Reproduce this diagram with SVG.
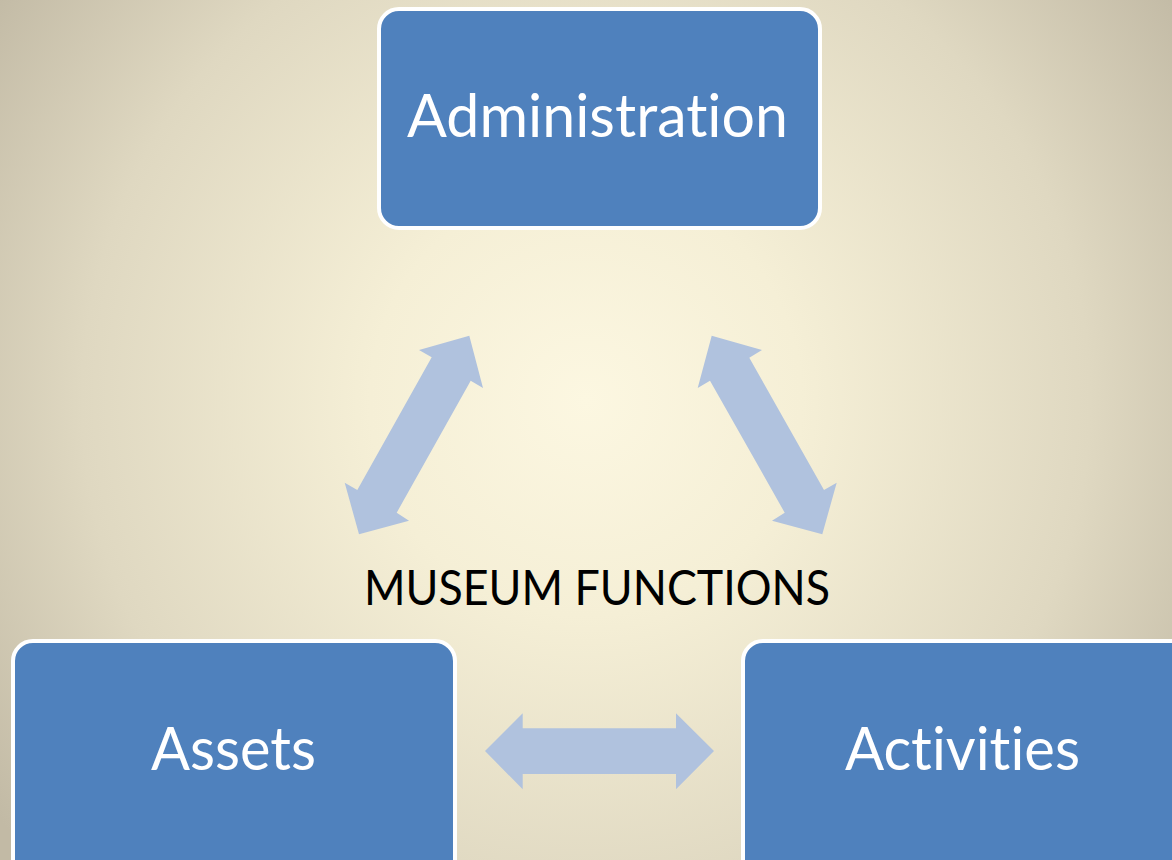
<svg xmlns="http://www.w3.org/2000/svg" width="1172" height="860" viewBox="0 0 1172 860">
<defs>
<radialGradient id="bg" gradientUnits="userSpaceOnUse" cx="586" cy="400" r="720">
<stop offset="0" stop-color="#fcf7e1"/>
<stop offset="0.3" stop-color="#f5efd6"/>
<stop offset="0.7" stop-color="#dfd8c1"/>
<stop offset="1" stop-color="#c2baa5"/>
</radialGradient>
<style>
.box{fill:#4f81bd;stroke:#ffffff;stroke-width:4}
.lbl{font-family:Lato,"Open Sans","Liberation Sans",sans-serif;fill:#ffffff;font-size:60px;font-variant-ligatures:none;font-feature-settings:"liga" 0,"clig" 0}
.arrow{fill:#b0c2de}
.title{font-family:Lato,"Open Sans","Liberation Sans",sans-serif;fill:#000000;font-size:48px;font-variant-ligatures:none}
</style>
</defs>
<rect x="0" y="0" width="1172" height="860" fill="url(#bg)"/>
<g id="connectors">
<polygon class="arrow" points="469.3,335.7 419,350 431.7,357.3 357.3,490 344.7,482.7 359,534.3 409,520.7 396.7,512.7 470.7,380.7 483,388"/>
<polygon class="arrow" points="711.7,335.7 762,350 749.3,357.7 824,490 836.7,482.7 822.3,534.3 772,520.7 784.7,512.7 710,380.7 697.7,388"/>
<polygon class="arrow" points="485,751 522.7,713.3 522.7,728.3 676,728.3 676,713.3 714,751 676,789.3 676,774 522.7,774 522.7,789.3"/>
</g>
<g id="title">
<text class="title" x="364" y="605" textLength="466" lengthAdjust="spacingAndGlyphs">MUSEUM FUNCTIONS</text>
</g>
<g id="administration">
<rect class="box" x="379" y="9" width="441" height="219" rx="20" ry="20"/>
<text class="lbl" x="407" y="137" textLength="381" lengthAdjust="spacingAndGlyphs">Administration</text>
</g>
<g id="assets">
<rect class="box" x="13" y="641" width="442" height="240" rx="20" ry="20"/>
<text class="lbl" x="151" y="770" textLength="165" lengthAdjust="spacingAndGlyphs">Assets</text>
</g>
<g id="activities">
<rect class="box" x="743" y="641" width="460" height="240" rx="20" ry="20"/>
<text class="lbl" x="845" y="770" textLength="235" lengthAdjust="spacingAndGlyphs">Activities</text>
</g>
</svg>
